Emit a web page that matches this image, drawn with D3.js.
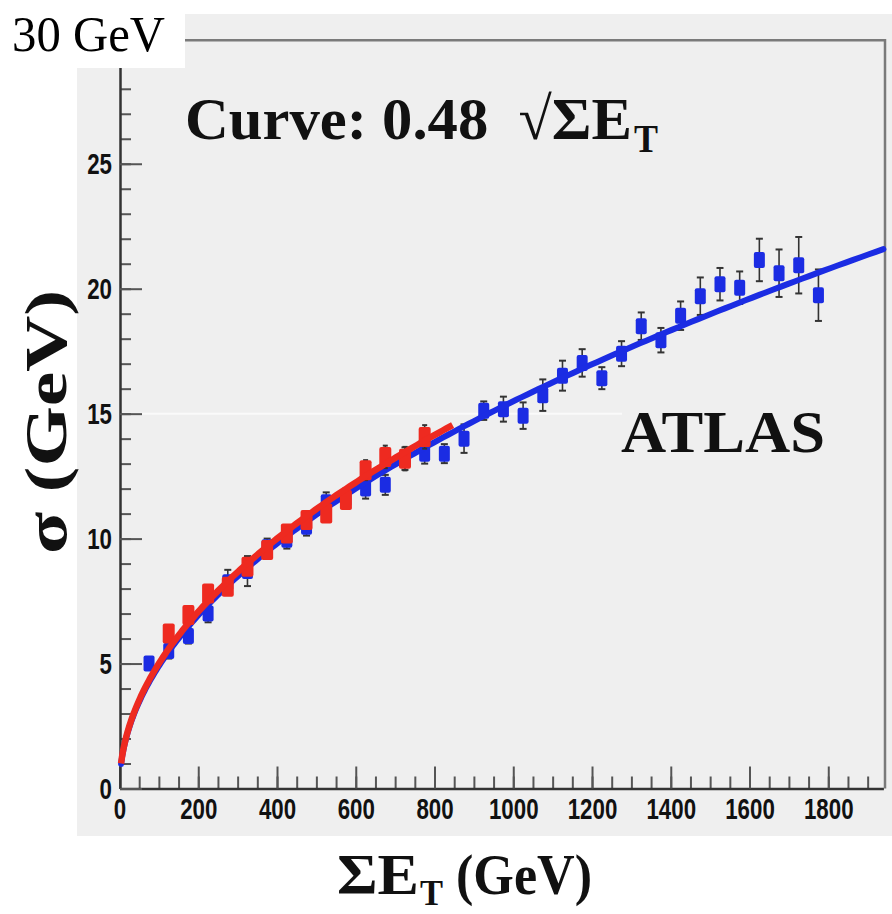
<!DOCTYPE html>
<html>
<head>
<meta charset="utf-8">
<script src="https://cdn.jsdelivr.net/npm/d3@7"></script>
<style>
  html, body { margin: 0; padding: 0; background: #ffffff; }
  svg { display: block; }
  text { white-space: pre; }
</style>
</head>
<body>
<svg id="chart" width="892" height="914"></svg>
<script>
// ---------------- data ----------------
const xMajorTicks = [0, 200, 400, 600, 800, 1000, 1200, 1400, 1600, 1800];
const xMinorTicks = d3.range(0, 1950, 50);
const yMajorTicks = [0, 5, 10, 15, 20, 25];
const yMinorTicks = d3.range(0, 31, 1);

// blue series (ATLAS data)
const sumEtBlue = [75, 125, 175, 225, 275, 325, 375, 425, 475, 525, 575, 625, 675, 725, 775, 825, 875, 925, 975,
  1025, 1075, 1125, 1175, 1225, 1275, 1325, 1375, 1425, 1475, 1525, 1575, 1625, 1675, 1725, 1775];
const sigmaBlue = [5.0, 5.5, 6.1, 7.0, 8.25, 8.7, 9.65, 9.95, 10.47, 11.45, 11.6, 12.0, 12.15, 13.2, 13.4, 13.4, 14.0, 15.12, 15.18,
  14.92, 15.74, 16.52, 17.03, 16.42, 17.4, 18.5, 17.94, 18.92, 19.7, 20.18, 20.04, 21.15, 20.62, 20.94, 19.74];
const errBlue = [0.2, 0.3, 0.3, 0.35, 0.5, 0.6, 0.35, 0.35, 0.35, 0.4, 0.4, 0.4, 0.4, 0.45, 0.4, 0.38, 0.57, 0.37, 0.5,
  0.53, 0.63, 0.6, 0.55, 0.44, 0.5, 0.55, 0.49, 0.57, 0.75, 0.65, 0.65, 0.85, 0.95, 1.13, 1.03];

// red series
const sumEtRed = [125, 175, 225, 275, 325, 375, 425, 475, 525, 575, 625, 675, 725, 775];
const sigmaRed = [6.2, 6.94, 7.8, 8.07, 8.87, 9.54, 10.2, 10.74, 11.0, 11.54, 12.74, 13.27, 13.2, 14.07];
const errRed = [0.3, 0.3, 0.3, 0.3, 0.3, 0.3, 0.3, 0.3, 0.3, 0.3, 0.4, 0.45, 0.47, 0.47];

// fit curves  sigma = k * sqrt(sumEt)
const fitBlue = { k: 0.49, from: 4, to: 1940 };
const fitRed = { k: 0.5, from: 4, to: 846 };

// ---------------- layout ----------------
const svg = d3.select("#chart");
const xAxisY = 788.5, yAxisX = 120;
const x = d3.scaleLinear().domain([0, 1940]).range([119.5, 883.4]);
const y = d3.scaleLinear().domain([0, 30]).range([788.5, 38.8]);

const BLUE = "#1b2ce3", RED = "#ee2a20";
const serif = "'Liberation Serif', 'Times New Roman', serif";
const sans = "'Liberation Sans', Arial, sans-serif";

// canvas background
svg.append("rect").attr("x", 77).attr("y", 14).attr("width", 815).attr("height", 822).attr("fill", "#efefef");

// faint artefact line
svg.append("line").attr("x1", 122).attr("x2", 622).attr("y1", y(15)).attr("y2", y(15))
  .attr("stroke", "#fafafa").attr("stroke-width", 2);

// frame (top + right)
svg.append("path")
  .attr("d", `M${yAxisX},${y(30) + 1.5}H885V${xAxisY}`)
  .attr("fill", "none").attr("stroke", "#7a7a7a").attr("stroke-width", 2.5);

const fmt = d3.format("d");

// x axis
const gx = svg.append("g").attr("transform", `translate(0,${xAxisY})`);
gx.append("g").call(d3.axisBottom(x).tickValues(xMinorTicks).tickSize(-12).tickFormat(""))
  .call(g => g.select(".domain").remove());
gx.append("g").call(d3.axisBottom(x).tickValues(xMajorTicks).tickFormat(fmt)
  .tickSizeInner(-22).tickSizeOuter(0).tickPadding(9));
gx.selectAll(".tick line").attr("stroke", "#555").attr("stroke-width", 2);
gx.selectAll(".domain").attr("stroke", "#333").attr("stroke-width", 2.5);
gx.selectAll("text")
  .attr("font-family", sans).attr("font-weight", "bold").attr("font-size", 30).attr("fill", "#111")
  .attr("textLength", d => fmt(d).length * 12.4).attr("lengthAdjust", "spacingAndGlyphs");

// y axis
const gy = svg.append("g").attr("transform", `translate(${yAxisX},0)`);
gy.append("g").call(d3.axisLeft(y).tickValues(yMinorTicks).tickSize(-11).tickFormat(""))
  .call(g => g.select(".domain").remove());
gy.append("g").call(d3.axisLeft(y).tickValues(yMajorTicks).tickFormat(fmt)
  .tickSizeInner(-22).tickSizeOuter(0).tickPadding(8));
gy.selectAll(".tick line").attr("stroke", "#555").attr("stroke-width", 2);
gy.selectAll(".domain").attr("stroke", "#333").attr("stroke-width", 2.5);
gy.selectAll("text")
  .attr("font-family", sans).attr("font-weight", "bold").attr("font-size", 30).attr("fill", "#111")
  .attr("textLength", d => fmt(d).length * 12.4).attr("lengthAdjust", "spacingAndGlyphs");

// ---------------- marks ----------------
const blue = sumEtBlue.map((e, i) => ({ e, s: sigmaBlue[i], err: errBlue[i] }));
const red = sumEtRed.map((e, i) => ({ e, s: sigmaRed[i], err: errRed[i] }));

function drawErrors(data, capW) {
  const g = svg.append("g");
  g.selectAll("line.v").data(data).join("line").attr("class", "v")
    .attr("x1", d => x(d.e)).attr("x2", d => x(d.e))
    .attr("y1", d => y(d.s + d.err)).attr("y2", d => y(d.s - d.err))
    .attr("stroke", "#333").attr("stroke-width", 1.6);
  [1, -1].forEach(sg => {
    g.selectAll("line.c" + (sg > 0 ? "t" : "b")).data(data).join("line").attr("class", "c" + (sg > 0 ? "t" : "b"))
      .attr("x1", d => x(d.e) - capW / 2).attr("x2", d => x(d.e) + capW / 2)
      .attr("y1", d => y(d.s + sg * d.err)).attr("y2", d => y(d.s + sg * d.err))
      .attr("stroke", "#333").attr("stroke-width", 2);
  });
}
function drawMarkers(data, color, w, h) {
  svg.append("g").selectAll("rect").data(data).join("rect")
    .attr("x", d => x(d.e) - w / 2).attr("y", d => y(d.s) - h / 2)
    .attr("width", w).attr("height", h).attr("rx", 2)
    .attr("fill", color);
}
function curvePoints(fit) {
  const n = 200;
  return d3.range(n + 1).map(i => {
    const e = fit.from + (fit.to - fit.from) * Math.pow(i / n, 2);
    return [e, fit.k * Math.sqrt(e)];
  });
}
const line = d3.line().x(d => x(d[0])).y(d => y(d[1])).curve(d3.curveLinear);

drawErrors(blue, 7);
drawMarkers(blue, BLUE, 11, 16);
svg.append("path").attr("d", line(curvePoints(fitBlue)))
  .attr("fill", "none").attr("stroke", BLUE).attr("stroke-width", 6).attr("stroke-linecap", "round");

drawErrors(red, 5);
drawMarkers(red, RED, 12, 20);
svg.append("path").attr("d", line(curvePoints(fitRed)))
  .attr("fill", "none").attr("stroke", RED).attr("stroke-width", 6.5).attr("stroke-linecap", "butt");

// ---------------- texts ----------------
svg.append("rect").attr("x", 0).attr("y", 0).attr("width", 185).attr("height", 68).attr("fill", "#ffffff");
svg.append("text").attr("x", 12).attr("y", 51).text("30 GeV")
  .attr("font-family", serif).attr("font-size", 50).attr("fill", "#000")
  .attr("textLength", 153).attr("lengthAdjust", "spacingAndGlyphs");

svg.append("text").attr("x", 185).attr("y", 139).text("Curve: 0.48  \u221A\u03A3E")
  .attr("font-family", serif).attr("font-weight", "bold").attr("font-size", 60).attr("fill", "#111")
  .attr("textLength", 447).attr("lengthAdjust", "spacingAndGlyphs");
svg.append("text").attr("x", 634).attr("y", 152).text("T")
  .attr("font-family", serif).attr("font-weight", "bold").attr("font-size", 40).attr("fill", "#111")
  .attr("textLength", 24).attr("lengthAdjust", "spacingAndGlyphs");

svg.append("text").attr("x", 621).attr("y", 452).text("ATLAS")
  .attr("font-family", serif).attr("font-weight", "bold").attr("font-size", 60).attr("fill", "#111")
  .attr("textLength", 204).attr("lengthAdjust", "spacingAndGlyphs");

svg.append("text").attr("transform", "translate(66,422) rotate(-90)").attr("text-anchor", "middle")
  .text("\u03C3 (GeV)")
  .attr("font-family", serif).attr("font-weight", "bold").attr("font-size", 60).attr("fill", "#111")
  .attr("textLength", 264).attr("lengthAdjust", "spacingAndGlyphs");

svg.append("text").attr("x", 337).attr("y", 894).text("\u03A3E")
  .attr("font-family", serif).attr("font-weight", "bold").attr("font-size", 58).attr("fill", "#111")
  .attr("textLength", 82).attr("lengthAdjust", "spacingAndGlyphs");
svg.append("text").attr("x", 420).attr("y", 905).text("T")
  .attr("font-family", serif).attr("font-weight", "bold").attr("font-size", 36).attr("fill", "#111")
  .attr("textLength", 23).attr("lengthAdjust", "spacingAndGlyphs");
svg.append("text").attr("x", 456).attr("y", 894).text("(GeV)")
  .attr("font-family", serif).attr("font-weight", "bold").attr("font-size", 58).attr("fill", "#111")
  .attr("textLength", 136).attr("lengthAdjust", "spacingAndGlyphs");
</script>
</body>
</html>
